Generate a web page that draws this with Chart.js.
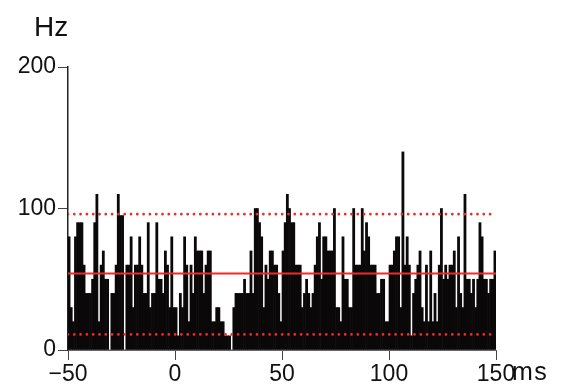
<!DOCTYPE html>
<html>
<head>
<meta charset="utf-8">
<script src="https://cdn.jsdelivr.net/npm/chart.js@4.4.1/dist/chart.umd.min.js"></script>
<style>
  body { margin: 0; background: #fff; }
  #wrap { position: relative; width: 562px; height: 392px; }
  #psth { position: absolute; left: 0; top: 0; }
  .unit {
    position: absolute;
    font-family: 'Liberation Sans', Arial, sans-serif;
    color: #111;
    line-height: 1;
    white-space: nowrap;
  }
  #unitY { left: 34px; top: 13px; font-size: 28px; }
  #unitX { left: 512px; top: 359px; font-size: 25px; letter-spacing: 1.5px; }
</style>
</head>
<body>
<div id="wrap">
  <canvas id="psth" width="562" height="392"></canvas>
  <div class="unit" id="unitY">Hz</div>
  <div class="unit" id="unitX">ms</div>
</div>
<script>
// Firing rate per 1 ms bin, from -50 ms to +150 ms
const binStart = -50;
const binWidth = 1;
const rates = [
    80, 30, 20, 80, 90, 90, 90, 60, 40, 40,
    40, 50, 90, 110, 20, 60, 70, 50, 50, 0,
    40, 40, 60, 110, 95, 95, 0, 60, 60, 80,
    30, 60, 60, 80, 60, 40, 40, 90, 30, 40,
    40, 90, 50, 50, 40, 70, 60, 30, 80, 30,
    30, 10, 40, 30, 80, 60, 20, 60, 40, 80,
    70, 70, 70, 40, 60, 70, 70, 20, 20, 30,
    30, 20, 20, 10, 10, 10, 0, 30, 40, 40,
    40, 40, 50, 40, 40, 70, 40, 100, 100, 90,
    80, 30, 60, 50, 70, 70, 60, 60, 40, 20,
    70, 90, 110, 100, 90, 90, 60, 60, 60, 30,
    40, 50, 40, 30, 40, 60, 80, 90, 50, 80,
    80, 70, 70, 70, 100, 30, 30, 20, 80, 50,
    50, 30, 30, 100, 60, 60, 60, 100, 70, 90,
    80, 60, 60, 60, 40, 40, 50, 50, 20, 20,
    60, 60, 70, 80, 80, 30, 140, 60, 80, 60,
    10, 40, 50, 60, 70, 30, 20, 60, 20, 70,
    20, 40, 20, 60, 100, 50, 60, 50, 60, 60,
    70, 30, 80, 40, 30, 110, 50, 50, 40, 50,
    30, 50, 90, 80, 50, 50, 40, 50, 50, 70
];

// Mean rate and the upper / lower limits
const meanRate = 54;
const upperLimit = 96;
const lowerLimit = 11;

const xTicks = [-50, 0, 50, 100, 150];
const yTicks = [0, 100, 200];

const red = '#ee2b2b';
const axisColor = '#222';

Chart.defaults.font.family = "'Liberation Sans', Arial, sans-serif";
Chart.defaults.color = '#111';

const bars = rates.map((r, i) => ({ x: binStart + (i + 0.5) * binWidth, y: r }));
const span = [xTicks[0], xTicks[xTicks.length - 1]];

function hLine(value, dotted) {
    return {
        type: 'line',
        data: span.map(x => ({ x: x, y: value })),
        borderColor: red,
        borderWidth: dotted ? 2.8 : 2,
        borderDash: dotted ? [0, 6.3] : [],
        borderCapStyle: dotted ? 'round' : 'butt',
        pointRadius: 0,
        order: 1
    };
}

new Chart(document.getElementById('psth'), {
    data: {
        datasets: [
            {
                type: 'bar',
                data: bars,
                backgroundColor: '#0a0808',
                borderWidth: 0,
                barPercentage: 1,
                categoryPercentage: 1,
                order: 2
            },
            hLine(meanRate, false),
            hLine(upperLimit, true),
            hLine(lowerLimit, true)
        ]
    },
    options: {
        responsive: false,
        animation: false,
        layout: { padding: { top: 67, right: 66, left: 0, bottom: 0 } },
        plugins: {
            legend: { display: false },
            tooltip: { enabled: false }
        },
        scales: {
            x: {
                type: 'linear',
                min: span[0],
                max: span[1],
                offset: false,
                afterBuildTicks: s => { s.ticks = xTicks.map(v => ({ value: v })); },
                afterFit: s => { s.height = 42; },
                grid: { drawOnChartArea: false, offset: false, tickLength: 10, color: '#444' },
                border: { display: true, color: '#666', width: 1 },
                ticks: {
                    padding: 1,
                    maxRotation: 0,
                    font: { size: 23 },
                    callback: v => String(v).replace('-', '\u2212')
                }
            },
            y: {
                min: 0,
                max: 200,
                afterBuildTicks: s => { s.ticks = yTicks.map(v => ({ value: v })); },
                afterFit: s => { s.width = 68; },
                grid: { drawOnChartArea: false, tickLength: 10, color: '#444' },
                border: { display: true, color: axisColor, width: 1.5 },
                ticks: { padding: 2, font: { size: 23 } }
            }
        }
    }
});
</script>
</body>
</html>
